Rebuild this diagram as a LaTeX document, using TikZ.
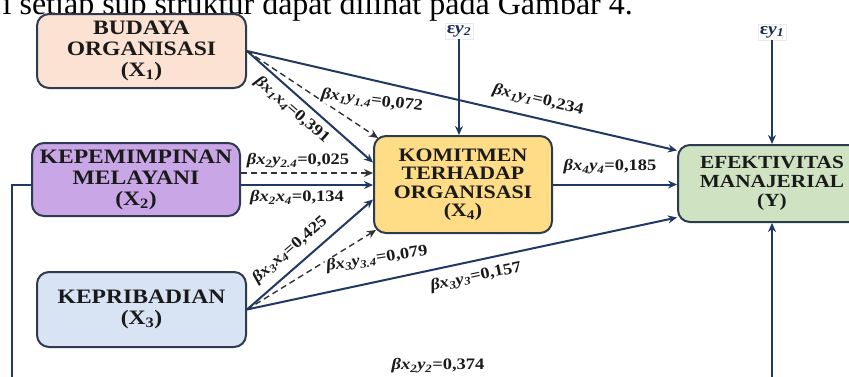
\documentclass[tikz,border=0pt]{standalone}
\usepackage{fontspec}
\setmainfont{Liberation Serif}
\newfontfamily\bxf[FakeStretch=1.15]{Liberation Serif}
\usetikzlibrary{arrows.meta,calc}
\definecolor{navy}{HTML}{1F3864}
\definecolor{bord}{HTML}{2E3A4F}
\definecolor{fbud}{HTML}{FBE2D3}
\definecolor{fkep}{HTML}{C9A6E6}
\definecolor{fkpr}{HTML}{D8E3F4}
\definecolor{fkom}{HTML}{FFDD87}
\definecolor{fefk}{HTML}{CFE3C3}
\definecolor{txt}{HTML}{1A1A1A}
\newcommand\vx[1]{\textit{x}\textsubscript{\textit{#1}}}
\newcommand\vy[1]{\textit{y}\textsubscript{\textit{#1}}}
\newcommand\bt{\textit{β}}
\begin{document}
\begin{tikzpicture}[x=1pt,y=-1pt,
 boxnode/.style={draw=bord, line width=2pt, rounded corners=12pt, align=center, text=txt,
   font=\bxf\bfseries\fontsize{20.5}{21}\selectfont, inner sep=0pt},
 arr/.style={draw=navy, line width=2pt, -{Stealth[length=9pt,width=8pt]}},
 darr/.style={draw=black!80, line width=1.4pt, dash pattern=on 6pt off 4pt, -{Stealth[length=9pt,width=8pt]}},
 coef/.style={font=\bxf\bfseries\fontsize{16}{18}\selectfont, text=txt, fill=white, inner sep=1pt},
 epsl/.style={font=\bxf\bfseries\fontsize{17}{19}\selectfont, text=navy!80!black, fill=white, draw=black!8, inner sep=2pt},
]
\clip (0,0) rectangle (849,376);
\useasboundingbox (0,0) rectangle (849,376);
\fill[white] (0,0) rectangle (849,376);

\node[anchor=base east, font=\fontsize{32}{32}\selectfont, inner sep=0pt] (toptext) at (633,14)
  {i setiap sub struktur dapat dilihat pada Gambar 4.};

% boxes
\node[boxnode, fill=fbud, minimum width=209pt, minimum height=74pt] (bud) at (141.5,51)
  {BUDAYA\\ORGANISASI\\(X\textsubscript{1})};
\node[boxnode, fill=fkep, minimum width=208pt, minimum height=73pt] (kep) at (136,179.5)
  {KEPEMIMPINAN\\MELAYANI\\(X\textsubscript{2})};
\node[boxnode, fill=fkpr, minimum width=209pt, minimum height=75pt] (kpr) at (141.5,309.5)
  {KEPRIBADIAN\\(X\textsubscript{3})};
\node[boxnode, fill=fkom, minimum width=178pt, minimum height=97pt,
  font=\bxf\bfseries\fontsize{19}{18.5}\selectfont] (kom) at (463,184.5)
  {KOMITMEN\\TERHADAP\\ORGANISASI\\(X\textsubscript{4})};
\node[boxnode, fill=fefk, minimum width=188pt, minimum height=77pt,
  font=\bxf\bfseries\fontsize{18.5}{19}\selectfont] (efk) at (772,183.5)
  {EFEKTIVITAS\\MANAJERIAL\\(Y)};

% error terms
\node[epsl] (ey2) at (459,31) {ε\textit{y}\textsubscript{\textit{2}}};
\node[epsl] (ey1) at (772,32) {ε\textit{y}\textsubscript{\textit{1}}};
\draw[arr] (ey2.south) -- (ey2.south |- kom.north);
\draw[arr] (ey1.south) -- (ey1.south |- efk.north);

% connectors
\draw[arr] (bud.east) -- ($(efk.west)+(0,-33)$);
\draw[arr] (bud.east) -- ($(kom.west)+(0,-22)$);
\draw[darr] (bud.east) -- ($(kom.north west)+(5,3)$);
\draw[darr] ($(kep.east)+(0,-6.5)$) -- ($(kom.west)+(0,-11.5)$);
\draw[arr] ($(kep.east)+(0,5.5)$) -- ($(kom.west)+(0,0.5)$);
\draw[arr] (kpr.east) -- ($(kom.west)+(0,15)$);
\draw[darr] (kpr.east) -- ($(kom.south west)+(3,-4)$);
\draw[arr] (kpr.east) -- ($(efk.west)+(0,34)$);
\draw[arr] (kom.east) -- (kom.east -| efk.west);
\coordinate (bl) at (12,395);
\coordinate (br) at (772,395);
\draw[arr] ($(kep.west)+(0,5.5)$) -| (bl) -- (br) -- (efk.south);

% coefficient labels
\node[coef, rotate=-13] (l1) at (538,100) {\bt\vx{1}\vy{1}=0,234};
\node[coef, rotate=-41] (l2) at (292,110) {\bt\vx{1}\vx{4}=0,391};
\node[coef, rotate=-7] (l3) at (372,101) {\bt\vx{1}\vy{1.4}=0,072};
\node[coef] (l4) at (298,161) {\bt\vx{2}\vy{2.4}=0,025};
\node[coef] (l5) at (297,198) {\bt\vx{2}\vx{4}=0,134};
\node[coef, rotate=41] (l6) at (290,250) {\bt\vx{3}\vx{4}=0,425};
\node[coef, rotate=9] (l7) at (377,259) {\bt\vx{3}\vy{3.4}=0,079};
\node[coef, rotate=12] (l8) at (476,277) {\bt\vx{3}\vy{3}=0,157};
\node[coef] (l9) at (610,167) {\bt\vx{4}\vy{4}=0,185};
\node[coef] (l10) at (438,366) {\bt\vx{2}\vy{2}=0,374};
\end{tikzpicture}
\end{document}
